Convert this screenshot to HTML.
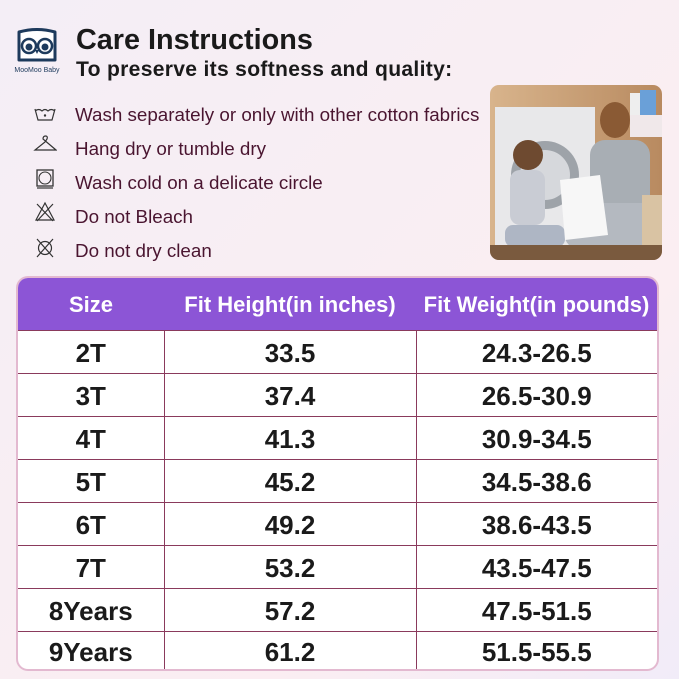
<!DOCTYPE html>
<html><head><style>
*{margin:0;padding:0;box-sizing:border-box}
body{width:679px;height:679px;overflow:hidden;position:relative;font-family:"Liberation Sans",Arial,sans-serif;
background:linear-gradient(135deg,#f4eef6 0%,#f8eef3 40%,#fbeef2 70%,#f1ecf8 100%);}
.abs{position:absolute}
.t1{left:76px;top:24px;font-size:28.8px;font-weight:bold;color:#1a1a1a}
.t2{left:76px;top:58px;font-size:21.1px;font-weight:bold;color:#1a1a1a;letter-spacing:0.3px}
.item{left:75px;font-size:18.8px;color:#4a1530}
.ic{left:33px;width:24px;height:22px}
table{position:absolute;left:18px;top:278px;width:639px;border-collapse:collapse;border-radius:10px;overflow:hidden;background:#fff;box-shadow:0 0 0 2px #e3b9d0}
th{background:#8c55d6;color:#fff;font-size:22px;font-weight:bold;height:52px;padding-top:2px}
td{height:43px;text-align:center;font-size:26px;font-weight:bold;color:#1a1a1a;border:1.5px solid #8a3a5c;padding-top:4px}
tr td:first-child{border-left:none}tr td:last-child{border-right:none}
tr:last-child td{border-bottom:none;height:38px}
</style></head><body>
<svg class="abs" style="left:14px;top:28px" width="46" height="48" viewBox="0 0 46 48">
<path d="M5 4 Q23 -1 41 4 L41 32 L5 32 Z" fill="#fff" stroke="#1d3a5c" stroke-width="3" stroke-linejoin="round"/>
<circle cx="15" cy="18" r="7" fill="#fff" stroke="#1d3a5c" stroke-width="2.5"/><circle cx="15" cy="19" r="3.5" fill="#1d3a5c"/>
<circle cx="31" cy="18" r="7" fill="#fff" stroke="#1d3a5c" stroke-width="2.5"/><circle cx="31" cy="19" r="3.5" fill="#1d3a5c"/>
<path d="M21 22 L23 26 L25 22Z" fill="#1d3a5c"/>
<text x="23" y="44" font-size="7" text-anchor="middle" fill="#1d3a5c" font-family="Liberation Sans">MooMoo Baby</text></svg>
<div class="abs t1">Care Instructions</div>
<div class="abs t2">To preserve its softness and quality:</div>
<svg class="abs ic" style="top:103px" viewBox="0 0 24 22"><path d="M2 6 L5 17 L19 17 L22 6 M2 8 Q6 5 9 8 Q12 5 15 8 Q18 5 22 8" fill="none" stroke="#333" stroke-width="1.2"/><circle cx="12" cy="12.5" r="1.2" fill="#333"/></svg>
<div class="abs item" style="top:104px">Wash separately or only with other cotton fabrics</div>
<svg class="abs ic" style="top:134px" viewBox="0 0 24 22"><path d="M10 5 Q10 2 12.5 2 Q15 2 14 5 L12 8 L2 16 L23 16 Z" fill="none" stroke="#333" stroke-width="1.2"/></svg>
<div class="abs item" style="top:138px">Hang dry or tumble dry</div>
<svg class="abs ic" style="top:168px" viewBox="0 0 24 22"><rect x="4" y="2" width="16" height="16" fill="none" stroke="#333" stroke-width="1.3"/><circle cx="12" cy="10" r="6" fill="none" stroke="#333" stroke-width="1.1"/><line x1="4" y1="20" x2="20" y2="20" stroke="#333" stroke-width="1.2"/></svg>
<div class="abs item" style="top:172px">Wash cold on a delicate circle</div>
<svg class="abs ic" style="top:201px" viewBox="0 0 24 22"><path d="M12 2 L3 19 L21 19 Z M4 3 L20 20 M20 3 L4 20" fill="none" stroke="#333" stroke-width="1.2"/></svg>
<div class="abs item" style="top:206px">Do not Bleach</div>
<svg class="abs ic" style="top:237px" viewBox="0 0 24 22"><circle cx="12" cy="11" r="6.5" fill="none" stroke="#333" stroke-width="1.2"/><path d="M4 2 L20 20 M20 2 L4 20" stroke="#333" stroke-width="1.2"/></svg>
<div class="abs item" style="top:240px">Do not dry clean</div>
<svg class="abs" style="left:490px;top:85px;border-radius:9px" width="172" height="175" viewBox="0 0 172 175">
<defs><linearGradient id="w" x1="0" x2="1"><stop offset="0" stop-color="#d8b48c"/><stop offset="1" stop-color="#b88a60"/></linearGradient></defs>
<rect width="172" height="175" fill="url(#w)"/>
<rect x="5" y="22" width="100" height="140" fill="#e8e8ea"/>
<circle cx="55" cy="90" r="34" fill="#9ea3a9"/><circle cx="55" cy="90" r="25" fill="#d6d8dc"/>
<rect x="150" y="5" width="16" height="28" fill="#6aa0d8"/><rect x="140" y="8" width="10" height="26" fill="#eee"/>
<rect x="140" y="30" width="36" height="22" fill="#f0e8ea"/>
<ellipse cx="125" cy="35" rx="15" ry="18" fill="#8a5a34"/>
<rect x="100" y="55" width="60" height="70" rx="15" fill="#a8aeb4"/>
<rect x="75" y="118" width="90" height="45" rx="12" fill="#b4b9c0"/>
<ellipse cx="38" cy="70" rx="15" ry="15" fill="#6e4a30"/>
<rect x="20" y="85" width="35" height="55" rx="10" fill="#c9ccd4"/>
<rect x="15" y="140" width="60" height="22" rx="8" fill="#aeb6c4"/>
<path d="M70 95 L110 90 L118 150 L75 155 Z" fill="#f7f7f7"/>
<rect x="0" y="160" width="172" height="15" fill="#7a5a3e"/>
<rect x="152" y="110" width="20" height="50" fill="#d9c3a3"/>
</svg>
<table>
<tr><th style="width:146px">Size</th><th style="width:252px">Fit Height(in inches)</th><th>Fit Weight(in pounds)</th></tr>
<tr><td>2T</td><td>33.5</td><td>24.3-26.5</td></tr>
<tr><td>3T</td><td>37.4</td><td>26.5-30.9</td></tr>
<tr><td>4T</td><td>41.3</td><td>30.9-34.5</td></tr>
<tr><td>5T</td><td>45.2</td><td>34.5-38.6</td></tr>
<tr><td>6T</td><td>49.2</td><td>38.6-43.5</td></tr>
<tr><td>7T</td><td>53.2</td><td>43.5-47.5</td></tr>
<tr><td>8Years</td><td>57.2</td><td>47.5-51.5</td></tr>
<tr><td>9Years</td><td>61.2</td><td>51.5-55.5</td></tr>
</table>
</body></html>
